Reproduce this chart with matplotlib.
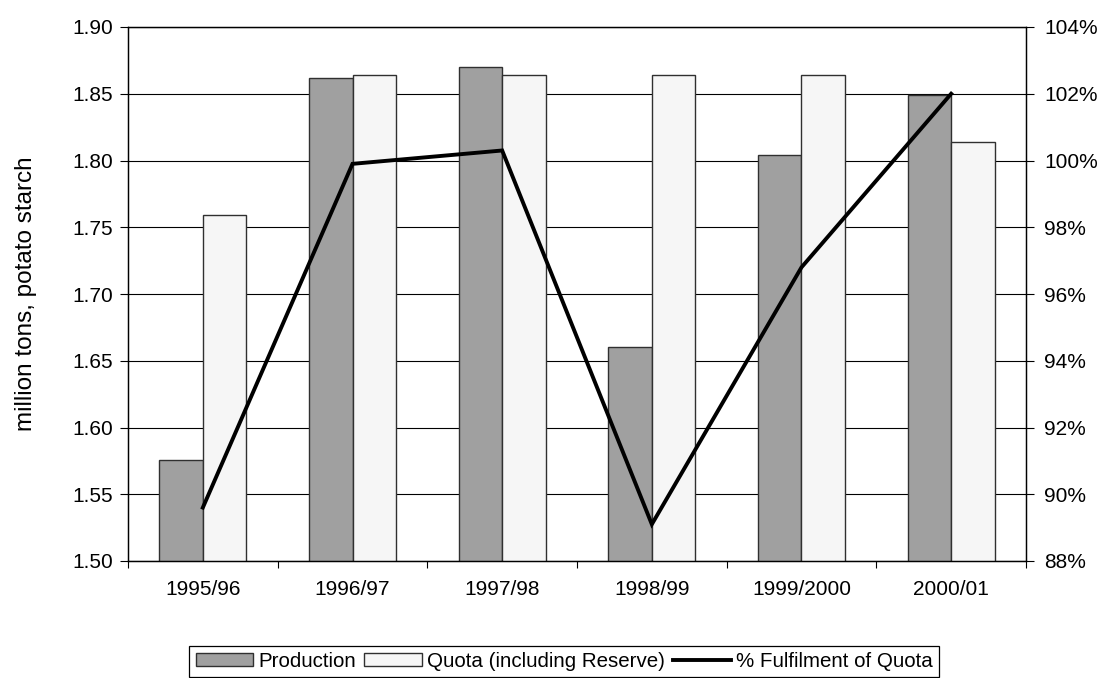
import matplotlib
matplotlib.use("Agg")
import matplotlib.pyplot as plt
from matplotlib.ticker import FuncFormatter, FixedLocator, MultipleLocator
import numpy as np

plt.rcParams['font.family'] = ['Liberation Sans', 'DejaVu Sans']

categories = ["1995/96", "1996/97", "1997/98", "1998/99", "1999/2000", "2000/01"]
production = [1.576, 1.862, 1.870, 1.660, 1.804, 1.849]
quota = [1.759, 1.864, 1.864, 1.864, 1.864, 1.814]
fulfilment = [0.896, 0.999, 1.003, 0.891, 0.968, 1.020]

fig = plt.figure(figsize=(10.98, 6.78), dpi=100)
ax = fig.add_axes([128/1098, 117/678, 898/1098, 534/678])

x = np.arange(len(categories))
w = 0.29
b1 = ax.bar(x - w/2, production, width=w, color='#A0A0A0', edgecolor='#303030',
            linewidth=1.0, label='Production', zorder=2)
b2 = ax.bar(x + w/2, quota, width=w, color='#F6F6F6', edgecolor='#303030',
            linewidth=1.0, label='Quota (including Reserve)', zorder=2)

ax.set_ylim(1.50, 1.90)
ax.set_xlim(-0.5, len(categories) - 0.5)
ax.yaxis.set_major_locator(MultipleLocator(0.05))
ax.yaxis.set_major_formatter(FuncFormatter(lambda v, p: f"{v:.2f}"))
ax.grid(axis='y', color='black', linewidth=0.8)
ax.set_axisbelow(True)

ax.set_xticks(x)
ax.set_xticklabels(categories)
ax.xaxis.set_minor_locator(FixedLocator(np.arange(-0.5, len(categories), 1.0)))
ax.tick_params(axis='x', which='major', length=0, pad=14, labelsize=15)
ax.tick_params(axis='x', which='minor', length=5, width=0.8, direction='out')
ax.tick_params(axis='y', length=6, width=0.8, direction='out', pad=5, labelsize=15)

for s in ax.spines.values():
    s.set_color('black')
    s.set_linewidth(0.9)

ax.set_ylabel('million tons, potato starch', fontsize=17.5)
ax.yaxis.set_label_coords(-0.101, 0.5)

ax2 = ax.twinx()
line, = ax2.plot(x, fulfilment, color='black', linewidth=2.8,
                 label='% Fulfilment of Quota', zorder=3, solid_joinstyle='miter')
ax2.set_ylim(0.88, 1.04)
ax2.yaxis.set_major_locator(MultipleLocator(0.02))
ax2.yaxis.set_major_formatter(FuncFormatter(lambda v, p: f"{v*100:.0f}%"))
ax2.tick_params(axis='y', length=6, width=0.8, direction='out', pad=7, labelsize=15)
for s in ax2.spines.values():
    s.set_color('black')
    s.set_linewidth(0.9)

leg = fig.legend([b1, b2, line],
                 ['Production', 'Quota (including Reserve)', '% Fulfilment of Quota'],
                 loc='lower center', bbox_to_anchor=(564/1098, 1/678), ncol=3,
                 frameon=True, fancybox=False, edgecolor='black', framealpha=1,
                 fontsize=14.8, handlelength=2.8, handleheight=0.6,
                 handletextpad=0.25, columnspacing=0.4, borderpad=0.3,
                 borderaxespad=0)
leg.get_frame().set_linewidth(0.9)

fig.savefig('out.png', dpi=100)
